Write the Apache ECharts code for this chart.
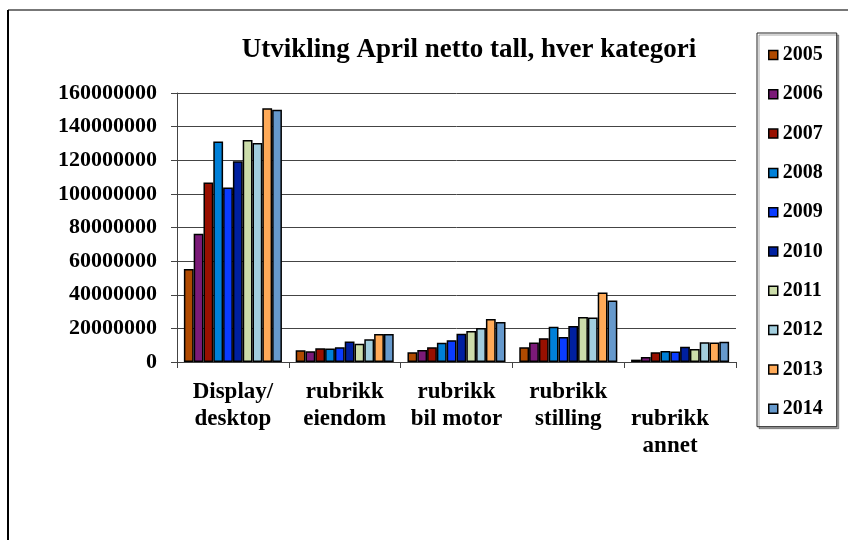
<!DOCTYPE html>
<html><head><meta charset="utf-8">
<script src="https://cdn.jsdelivr.net/npm/echarts@6/dist/echarts.min.js"></script>
<style>html,body{margin:0;padding:0;background:#fff}#c{width:848px;height:540px}</style>
</head><body><div id="c"></div>
<script>
const categories = ['Display/\ndesktop', 'rubrikk\neiendom', 'rubrikk\nbil motor', 'rubrikk\nstilling', '\nrubrikk\nannet'];
const years = ['2005','2006','2007','2008','2009','2010','2011','2012','2013','2014'];
const v2005 = [55300000, 7000000, 5800000, 8800000, 1400000];
const v2006 = [76300000, 6400000, 7200000, 11600000, 3000000];
const v2007 = [106800000, 8200000, 8800000, 14200000, 5800000];
const v2008 = [131100000, 8000000, 11400000, 21000000, 6600000];
const v2009 = [103800000, 8800000, 13000000, 14800000, 6200000];
const v2010 = [119400000, 12200000, 16800000, 21400000, 9000000];
const v2011 = [132100000, 10800000, 18400000, 26800000, 7800000];
const v2012 = [130300000, 13600000, 20200000, 26400000, 11800000];
const v2013 = [150900000, 16600000, 25600000, 41400000, 11600000];
const v2014 = [150100000, 16600000, 23800000, 36600000, 12000000];
const yTicks = [0, 20000000, 40000000, 60000000, 80000000, 100000000, 120000000, 140000000, 160000000];

const seriesValues = [v2005, v2006, v2007, v2008, v2009, v2010, v2011, v2012, v2013, v2014];
const colors = ['#B04A00', '#7B1A78', '#981000', '#0080D8', '#0A3CFF', '#0020A0', '#CCDDAA', '#A2CEDE', '#FFAA58', '#6699CC'];
const font = '"Liberation Serif", "Times New Roman", serif';

const xData = categories.map((c, i) => i === categories.length - 1
  ? {value: c, textStyle: {padding: [0, 20, 0, 0]}}
  : c);

const chart = echarts.init(document.getElementById('c'), null, {renderer: 'canvas'});
chart.setOption({
  animation: false,
  backgroundColor: '#fff',
  graphic: [
    {type: 'line', shape: {x1: 8, y1: 10, x2: 848, y2: 10}, style: {stroke: '#777', lineWidth: 2}},
    {type: 'line', shape: {x1: 8, y1: 10, x2: 8, y2: 540}, style: {stroke: '#000', lineWidth: 2}}
  ],
  title: {
    text: 'Utvikling April netto tall, hver kategori',
    left: 464, top: 32, textAlign: 'center',
    textStyle: {fontFamily: font, fontWeight: 'bold', fontSize: 27, color: '#000'}
  },
  legend: {
    orient: 'vertical',
    left: 757, top: 33,
    padding: [12, 14, 8, 11],
    itemGap: 19.3,
    itemWidth: 9, itemHeight: 9,
    icon: 'rect',
    borderColor: '#222', borderWidth: 1,
    shadowColor: 'rgba(0,0,0,0.35)', shadowOffsetX: 2, shadowOffsetY: 2, shadowBlur: 0,
    backgroundColor: '#fff',
    itemStyle: {borderColor: '#000', borderWidth: 1.5},
    textStyle: {fontFamily: font, fontWeight: 'bold', fontSize: 20, color: '#000', lineHeight: 20},
    data: years
  },
  grid: {left: 177, right: 112, top: 93, bottom: 178, containLabel: false},
  xAxis: {
    type: 'category',
    data: xData,
    axisLine: {lineStyle: {color: '#444', width: 1}},
    axisTick: {show: true, length: 6, inside: false, lineStyle: {color: '#444'}},
    axisLabel: {
      interval: 0, margin: 17,
      fontFamily: font, fontWeight: 'bold', fontSize: 23, lineHeight: 27, color: '#000'
    }
  },
  yAxis: {
    type: 'value', min: 0, max: 160000000, interval: 20000000,
    axisLine: {show: true, lineStyle: {color: '#444', width: 1}},
    axisTick: {show: true, length: 6, lineStyle: {color: '#444'}},
    splitLine: {lineStyle: {color: '#444', width: 1}},
    axisLabel: {
      margin: 20,
      fontFamily: font, fontWeight: 'bold', fontSize: 22, color: '#000',
      formatter: function (v) { return yTicks.indexOf(v) >= 0 ? String(v) : ''; }
    }
  },
  series: years.map((y, i) => ({
    name: y, type: 'bar', data: seriesValues[i],
    barGap: '0%', barCategoryGap: '12.3%',
    itemStyle: {color: colors[i], borderColor: '#000', borderWidth: 1.5}
  }))
});
</script></body></html>
